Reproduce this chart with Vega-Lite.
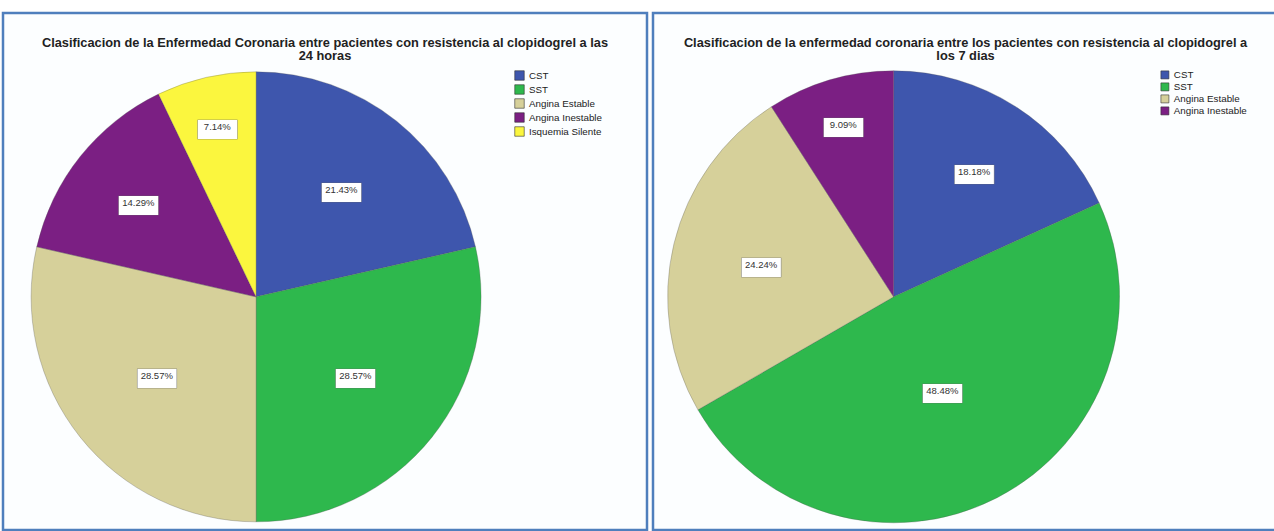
{
  "$schema": "https://vega.github.io/schema/vega-lite/v6.json",
  "background": "white",
  "padding": {"left": 1, "top": 11, "right": 1, "bottom": 2},
  "spacing": 2,
  "config": {
    "view": {"stroke": "#4f7fbd", "strokeWidth": 2.5, "fill": "#fcfeff"},
    "title": {"font": "Liberation Sans", "fontSize": 12.8, "fontWeight": "bold", "color": "#222222", "lineHeight": 13, "anchor": "middle", "frame": "group"},
    "legend": {"labelFont": "Liberation Sans", "labelFontSize": 9.8, "labelColor": "#222222", "symbolType": "square", "symbolStrokeColor": "#333333", "symbolStrokeWidth": 0.6, "symbolOpacity": 1, "rowPadding": 1, "labelOffset": 4, "padding": 0}
  },
  "datasets": {
    "h24": [
      {"tipo": "CST", "pct": 21.43, "etiqueta": "21.43%", "orden": 1},
      {"tipo": "SST", "pct": 28.57, "etiqueta": "28.57%", "orden": 2},
      {"tipo": "Angina Estable", "pct": 28.57, "etiqueta": "28.57%", "orden": 3},
      {"tipo": "Angina Inestable", "pct": 14.29, "etiqueta": "14.29%", "orden": 4},
      {"tipo": "Isquemia Silente", "pct": 7.14, "etiqueta": "7.14%", "orden": 5}
    ],
    "d7": [
      {"tipo": "CST", "pct": 18.18, "etiqueta": "18.18%", "orden": 1},
      {"tipo": "SST", "pct": 48.48, "etiqueta": "48.48%", "orden": 2},
      {"tipo": "Angina Estable", "pct": 24.24, "etiqueta": "24.24%", "orden": 3},
      {"tipo": "Angina Inestable", "pct": 9.09, "etiqueta": "9.09%", "orden": 4}
    ]
  },
  "resolve": {"scale": {"color": "independent"}},
  "hconcat": [
    {
      "width": 644,
      "height": 517,
      "title": {"text": ["Clasificacion de la Enfermedad Coronaria entre pacientes con resistencia al clopidogrel a las", "24 horas"], "offset": -50},
      "data": {"name": "h24"},
      "encoding": {
        "x": {"datum": 0.393, "type": "quantitative", "scale": {"domain": [0, 1]}, "axis": null},
        "y": {"datum": 0.451, "type": "quantitative", "scale": {"domain": [0, 1]}, "axis": null},
        "theta": {"field": "pct", "type": "quantitative", "stack": true},
        "order": {"field": "orden", "type": "quantitative"}
      },
      "layer": [
        {
          "mark": {"type": "arc", "outerRadius": 225, "stroke": "#555555", "strokeWidth": 0.3},
          "encoding": {
            "color": {"field": "tipo", "type": "nominal", "title": null,
              "scale": {"domain": ["CST", "SST", "Angina Estable", "Angina Inestable", "Isquemia Silente"], "range": ["#3e56ad", "#2eb84d", "#d6d09a", "#7b1f83", "#fbf63e"]},
              "legend": {"orient": "none", "legendX": 511, "legendY": 57, "symbolSize": 90}}
          }
        },
        {
          "mark": {"type": "text", "text": "▬", "font": "DejaVu Sans", "fontSize": 52, "fill": "white", "stroke": "#666666", "strokeWidth": 0.4, "baseline": "middle", "align": "center"},
          "encoding": {"radius": {"field": "pct", "type": "quantitative", "scale": {"type": "log", "domain": [7, 50], "range": [175, 108]}}}
        },
        {
          "mark": {"type": "text", "font": "Liberation Sans", "fontSize": 9.5, "fill": "#333333", "baseline": "middle", "align": "center"},
          "encoding": {
            "text": {"field": "etiqueta"},
            "radius": {"field": "pct", "type": "quantitative", "scale": {"type": "log", "domain": [7, 50], "range": [175, 108]}}
          }
        }
      ]
    },
    {
      "width": 625,
      "height": 517,
      "title": {"text": ["Clasificacion de la enfermedad coronaria entre los pacientes con resistencia al clopidogrel a", "los 7 dias"], "offset": -50},
      "data": {"name": "d7"},
      "encoding": {
        "x": {"datum": 0.385, "type": "quantitative", "scale": {"domain": [0, 1]}, "axis": null},
        "y": {"datum": 0.451, "type": "quantitative", "scale": {"domain": [0, 1]}, "axis": null},
        "theta": {"field": "pct", "type": "quantitative", "stack": true},
        "order": {"field": "orden", "type": "quantitative"}
      },
      "layer": [
        {
          "mark": {"type": "arc", "outerRadius": 226, "stroke": "#555555", "strokeWidth": 0.3},
          "encoding": {
            "color": {"field": "tipo", "type": "nominal", "title": null,
              "scale": {"domain": ["CST", "SST", "Angina Estable", "Angina Inestable"], "range": ["#3e56ad", "#2eb84d", "#d6d09a", "#7b1f83"]},
              "legend": {"orient": "none", "legendX": 507, "legendY": 57, "symbolSize": 64, "rowPadding": 0}}
          }
        },
        {
          "mark": {"type": "text", "text": "▬", "font": "DejaVu Sans", "fontSize": 52, "fill": "white", "stroke": "#666666", "strokeWidth": 0.4, "baseline": "middle", "align": "center"},
          "encoding": {"radius": {"field": "pct", "type": "quantitative", "scale": {"type": "log", "domain": [7, 50], "range": [190, 105]}}}
        },
        {
          "mark": {"type": "text", "font": "Liberation Sans", "fontSize": 9.5, "fill": "#333333", "baseline": "middle", "align": "center"},
          "encoding": {
            "text": {"field": "etiqueta"},
            "radius": {"field": "pct", "type": "quantitative", "scale": {"type": "log", "domain": [7, 50], "range": [190, 105]}}
          }
        }
      ]
    }
  ]
}
